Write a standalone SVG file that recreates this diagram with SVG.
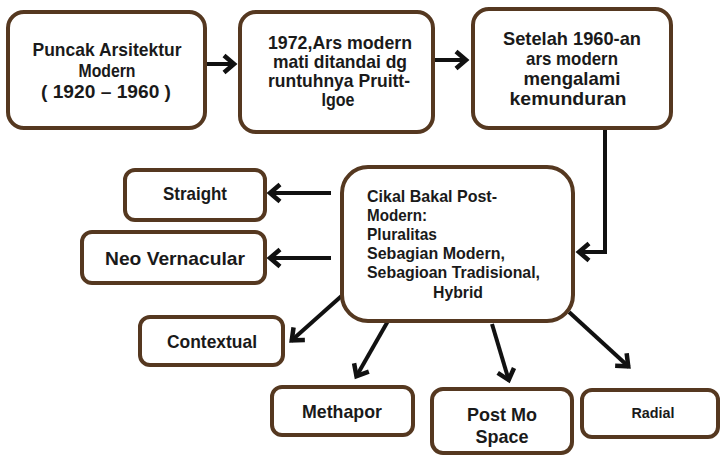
<svg xmlns="http://www.w3.org/2000/svg" width="722" height="455" viewBox="0 0 722 455">
<defs>
<style>
.box{fill:#fff;stroke:#553820;stroke-width:4}
.t{font-family:"Liberation Sans",Arial,sans-serif;font-weight:bold;font-size:19px;fill:#1a1a1a;text-anchor:middle}
.m{font-size:17px}
.l{text-anchor:start}
.c{fill:none;stroke:#111;stroke-width:4;marker-end:url(#ah)}
</style>
<marker id="ah" markerUnits="userSpaceOnUse" markerWidth="26" markerHeight="26" viewBox="-15 -13 20 26" refX="1" refY="0" orient="auto">
<path d="M-10,-8.5 L0,0 L-10,8.5" fill="none" stroke="#111" stroke-width="4.5"/>
</marker>
</defs>
<rect width="722" height="455" fill="#fff"/>
<g id="connectors">
<line class="c" x1="205" y1="64" x2="235" y2="64"/>
<line class="c" x1="433" y1="60" x2="467" y2="60"/>
<polyline class="c" points="605,128 605,252 578,252"/>
<line class="c" x1="331" y1="193" x2="269" y2="193"/>
<line class="c" x1="331" y1="258" x2="269" y2="258"/>
<line class="c" x1="346" y1="292" x2="291" y2="341"/>
<line class="c" x1="388" y1="321" x2="356" y2="377"/>
<line class="c" x1="492" y1="324" x2="509" y2="381"/>
<line class="c" x1="569" y1="312" x2="629" y2="367"/>
</g>
<g id="n1">
<rect class="box" x="8" y="12" width="197" height="116" rx="16"/>
<text class="t" x="107" y="56" textLength="149" lengthAdjust="spacingAndGlyphs">Puncak Arsitektur</text>
<text class="t" x="107" y="77" textLength="57" lengthAdjust="spacingAndGlyphs">Modern</text>
<text class="t" x="106" y="98" textLength="130" lengthAdjust="spacingAndGlyphs">( 1920 – 1960 )</text>
</g>
<g id="n2">
<rect class="box" x="240" y="12" width="193" height="120" rx="16"/>
<text class="t" x="340" y="49" textLength="144" lengthAdjust="spacingAndGlyphs">1972,Ars modern</text>
<text class="t" x="340" y="68" textLength="134" lengthAdjust="spacingAndGlyphs">mati ditandai dg</text>
<text class="t" x="339" y="87" textLength="142" lengthAdjust="spacingAndGlyphs">runtuhnya Pruitt-</text>
<text class="t" x="338" y="106" textLength="33" lengthAdjust="spacingAndGlyphs">Igoe</text>
</g>
<g id="n3">
<rect class="box" x="473" y="9" width="198" height="119" rx="16"/>
<text class="t" x="572" y="45" textLength="138" lengthAdjust="spacingAndGlyphs">Setelah 1960-an</text>
<text class="t" x="572" y="65" textLength="92" lengthAdjust="spacingAndGlyphs">ars modern</text>
<text class="t" x="572" y="85" textLength="97" lengthAdjust="spacingAndGlyphs">mengalami</text>
<text class="t" x="568" y="105" textLength="117" lengthAdjust="spacingAndGlyphs">kemunduran</text>
</g>
<g id="n4">
<rect class="box" x="342" y="167" width="231" height="154" rx="26"/>
<text class="t m l" x="367" y="202" textLength="130" lengthAdjust="spacingAndGlyphs">Cikal Bakal Post-</text>
<text class="t m l" x="367" y="221" textLength="60" lengthAdjust="spacingAndGlyphs">Modern:</text>
<text class="t m l" x="367" y="240" textLength="70" lengthAdjust="spacingAndGlyphs">Pluralitas</text>
<text class="t m l" x="367" y="259" textLength="138" lengthAdjust="spacingAndGlyphs">Sebagian Modern,</text>
<text class="t m l" x="367" y="278" textLength="173" lengthAdjust="spacingAndGlyphs">Sebagioan Tradisional,</text>
<text class="t m" x="458" y="298" textLength="50" lengthAdjust="spacingAndGlyphs">Hybrid</text>
</g>
<g id="n5">
<rect class="box" x="125" y="170" width="140" height="50" rx="10"/>
<text class="t" x="195" y="200" textLength="64" lengthAdjust="spacingAndGlyphs">Straight</text>
</g>
<g id="n6">
<rect class="box" x="82" y="232" width="183" height="51" rx="10"/>
<text class="t" x="175" y="265" textLength="140" lengthAdjust="spacingAndGlyphs">Neo Vernacular</text>
</g>
<g id="n7">
<rect class="box" x="140" y="317" width="143" height="48" rx="10"/>
<text class="t" x="212" y="348" textLength="90" lengthAdjust="spacingAndGlyphs">Contextual</text>
</g>
<g id="n8">
<rect class="box" x="272" y="387" width="141" height="48" rx="10"/>
<text class="t" x="342" y="418" textLength="80" lengthAdjust="spacingAndGlyphs">Methapor</text>
</g>
<g id="n9">
<rect class="box" x="432" y="389" width="140" height="64" rx="11"/>
<text class="t" x="502" y="421" textLength="70" lengthAdjust="spacingAndGlyphs">Post Mo</text>
<text class="t" x="502" y="443" textLength="53" lengthAdjust="spacingAndGlyphs">Space</text>
</g>
<g id="n10">
<rect class="box" x="582" y="390" width="136" height="47" rx="10"/>
<text class="t" x="653" y="418" style="font-size:14px" textLength="43" lengthAdjust="spacingAndGlyphs">Radial</text>
</g>
</svg>
